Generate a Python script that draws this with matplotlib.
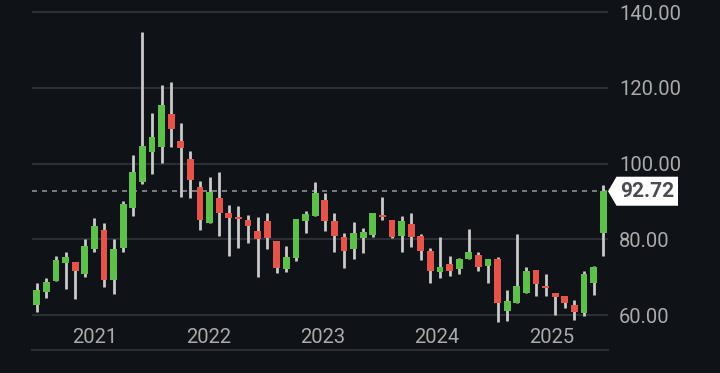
"""Monthly candlestick chart, dark theme."""

import matplotlib
matplotlib.use("Agg")
import matplotlib.pyplot as plt
from matplotlib.patches import Polygon
import numpy as np

# monthly OHLC, Jul 2020 .. Jun 2025
opens = [62.7, 66.1, 69.0, 73.8, 74.0, 70.9, 77.5, 82.5, 69.3, 77.7,
         88.3, 95.1, 103.1, 104.4, 113.1, 106.0, 101.2, 93.8, 84.3, 90.9,
         87.0, 85.7, 85.1, 82.2, 84.8, 79.6, 72.2, 75.1, 84.9, 86.2,
         90.4, 84.9, 80.6, 77.5, 80.4, 81.2, 86.4, 85.1, 80.9, 84.1,
         80.9, 76.9, 71.4, 73.5, 72.2, 74.8, 75.9, 73.0, 74.8, 61.1,
         63.2, 65.9, 71.9, 67.6, 65.9, 65.1, 62.7, 60.6, 68.5, 81.7]
closes = [66.6, 68.8, 74.6, 75.4, 71.7, 78.3, 83.5, 69.3, 77.5, 89.3,
          97.8, 104.6, 107.0, 115.5, 109.1, 104.1, 95.7, 85.1, 92.5, 87.0,
          85.6, 85.5, 83.5, 80.1, 80.4, 72.5, 75.4, 85.4, 86.7, 92.2,
          84.9, 80.9, 76.9, 81.7, 82.0, 87.0, 86.0, 80.6, 84.9, 80.6,
          76.9, 71.7, 72.7, 71.7, 74.8, 76.7, 72.7, 74.8, 63.2, 63.8,
          67.7, 71.7, 68.2, 67.3, 64.8, 63.2, 60.8, 70.9, 72.7, 92.72]
highs = [68.5, 69.8, 75.6, 76.7, 74.0, 80.1, 85.6, 84.3, 80.1, 90.1,
         102.3, 134.7, 113.4, 120.7, 121.5, 110.7, 103.3, 95.4, 96.5, 97.8,
         89.1, 88.8, 86.4, 85.9, 87.0, 79.6, 78.3, 85.4, 87.5, 95.1,
         92.2, 87.0, 81.7, 84.6, 83.0, 87.0, 91.2, 85.1, 86.2, 87.0,
         81.4, 77.7, 80.6, 75.6, 75.1, 82.7, 76.7, 74.8, 75.4, 66.6,
         81.4, 72.7, 71.9, 70.9, 65.9, 65.1, 64.0, 71.7, 73.0, 94.4]
lows = [60.8, 64.5, 69.0, 66.9, 64.3, 70.1, 76.7, 67.4, 65.6, 76.7,
        86.2, 94.6, 97.3, 100.2, 104.4, 91.2, 90.9, 82.5, 84.3, 80.9,
        75.6, 77.7, 79.1, 70.1, 77.5, 71.1, 71.4, 74.3, 81.7, 86.2,
        82.2, 76.7, 72.5, 74.8, 76.4, 80.6, 85.1, 80.4, 76.7, 78.0,
        74.6, 68.5, 69.8, 70.3, 70.9, 74.8, 71.7, 68.5, 58.2, 58.5,
        63.2, 65.9, 65.1, 65.1, 60.1, 61.9, 58.7, 59.8, 65.3, 75.6]
year_labels = ["2021", "2022", "2023", "2024", "2025"]
year_idx = [6, 18, 30, 42, 54]
y_ticks = [60, 80, 100, 120, 140]
last_price = 92.72

BG = "#0f1217"
GRID = "#2a2e35"
TEXT = "#a9abae"
UP = "#5ec04a"
DOWN = "#e5534b"
WICK = "#c9c9c9"

plt.rcParams["font.family"] = ["Roboto", "DejaVu Sans"]

fig = plt.figure(figsize=(7.2, 3.73), dpi=100, facecolor=BG)
ax = fig.add_axes([32 / 720, 23 / 373, 576 / 720, 350 / 373])
ax.set_facecolor(BG)

x = np.arange(len(opens))
o = np.array(opens)
c = np.array(closes)
up = c >= o
colors = np.where(up, UP, DOWN)

ax.vlines(x, lows, highs, color=WICK, linewidth=2.0, zorder=2)
bottom = np.minimum(o, c)
height = np.maximum(np.abs(c - o), 0.35)
ax.bar(x, height, bottom=bottom, width=0.7, color=colors, zorder=3)

ax.set_xlim(-0.5, len(opens) - 0.5)
ax.set_ylim(50.8, 143.2)

ax.set_yticks(y_ticks)
ax.set_yticklabels([f"{v:.2f}" for v in y_ticks])
ax.yaxis.tick_right()
ax.grid(axis="y", color=GRID, linewidth=1.5)
ax.set_axisbelow(True)

ax.set_xticks(np.array(year_idx) - 0.1 * np.arange(len(year_idx)))
ax.set_xticklabels(year_labels)
ax.tick_params(axis="x", length=0, pad=-16, labelsize=14.5, colors=TEXT)
ax.tick_params(axis="y", length=0, pad=8, labelsize=14.5, colors=TEXT)

for side in ["top", "left", "right"]:
    ax.spines[side].set_visible(False)
ax.spines["bottom"].set_color(GRID)
ax.spines["bottom"].set_linewidth(1.5)

# current price line and tag
ax.axhline(last_price, color="#8c8f94", linewidth=1.2, linestyle=(0, (3, 3)), zorder=1)
px = 1 / 576
h = 14.5 / 3.784
tag = Polygon([(1.0, last_price), (1 + 8.5 * px, last_price + h),
               (1 + 70 * px, last_price + h), (1 + 70 * px, last_price - h),
               (1 + 8.5 * px, last_price - h)], closed=True,
              facecolor="white", edgecolor="none", clip_on=False,
              transform=ax.get_yaxis_transform(), zorder=5)
ax.add_patch(tag)
ax.text(1 + 39.5 * px, last_price, f"{last_price:.2f}", transform=ax.get_yaxis_transform(),
        ha="center", va="center", fontsize=15, fontweight="bold", color="#4a4c50",
        clip_on=False, zorder=6)

fig.savefig("out.png", dpi=100, facecolor=BG)
